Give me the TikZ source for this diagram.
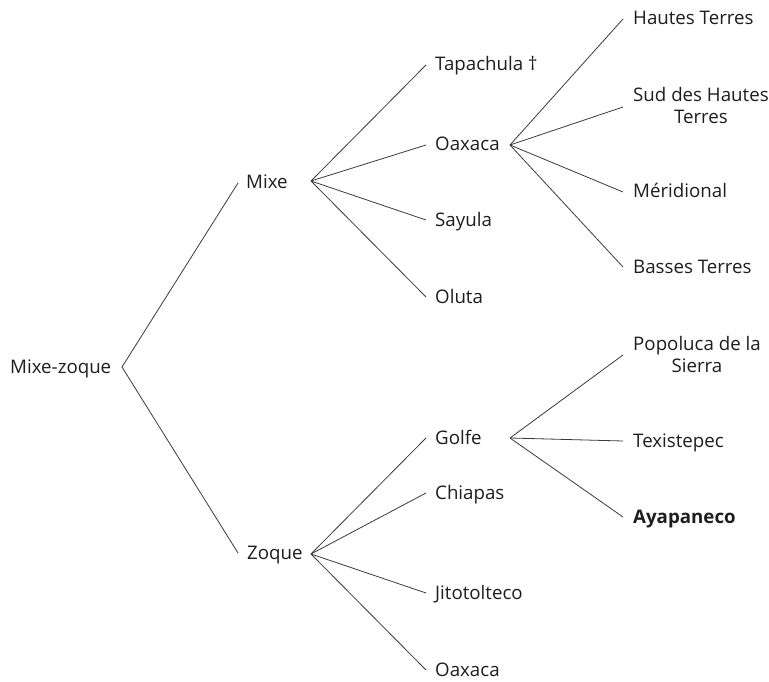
\documentclass[tikz,border=0pt]{standalone}
\usepackage{fontspec}
\setmainfont{Open Sans}
\definecolor{txt}{HTML}{1E1E1E}
\definecolor{edge}{HTML}{3A3A3A}
\begin{document}
\begin{tikzpicture}[x=1pt,y=-1pt,
  lbl/.style={anchor=west,inner ysep=0pt,text height=13pt,text depth=1pt,
    font=\fontsize{18.7}{22}\selectfont,text=txt,align=center},
  lbl8/.style={lbl,inner xsep=8pt},
  lbl9/.style={lbl,inner xsep=9pt},
  lbl10/.style={lbl,inner xsep=10pt},
  twoline/.style={lbl10,text height=35pt},
  br/.style={draw=edge,line width=0.8pt}]
\useasboundingbox (0,0) rectangle (769,682);
% root
\node[lbl,inner xsep=0pt] (mz) at (10,367) {Mixe-zoque};
\coordinate (mzJ) at (122,367);
% level 1
\node[lbl8] (mixe) at (238,183) {Mixe};
\coordinate (mixeJ) at (311,181);
\node[lbl9] (zoque) at (238,553) {Zoque};
\coordinate (zoqueJ) at (311,554);
% Mixe children
\node[lbl9] (tap) at (426,65) {Tapachula †};
\node[lbl9] (oax1) at (426,145) {Oaxaca};
\coordinate (oax1J) at (510,145);
\node[lbl9] (say) at (426,220) {Sayula};
\node[lbl9] (olu) at (426,297) {Oluta};
% Oaxaca children
\node[lbl10] (ht) at (623,19) {Hautes Terres};
\node[twoline] (sht) at (623,107) {Sud des Hautes\\Terres};
\node[lbl10] (mer) at (623,192) {Méridional};
\node[lbl10] (bt) at (623,267) {Basses Terres};
% Zoque children
\node[lbl9] (golfe) at (426,438) {Golfe};
\coordinate (golfeJ) at (510,438);
\node[lbl9] (chi) at (426,493) {Chiapas};
\node[lbl9] (jit) at (426,593) {Jitotolteco};
\node[lbl9] (oax2) at (426,670) {Oaxaca};
% Golfe children
\node[twoline] (pop) at (623,355) {Popoluca de la\\Sierra};
\node[lbl10] (tex) at (623,441) {Texistepec};
\node[lbl10,font=\fontsize{18.7}{22}\selectfont\bfseries] (aya) at (623,517) {Ayapaneco};
% edges
\draw[br] (mzJ) -- (mixe.west);
\draw[br] (mzJ) -- (zoque.west);
\foreach \c in {tap,oax1,say,olu} \draw[br] (mixeJ) -- (\c.west);
\foreach \c in {ht,sht,mer,bt} \draw[br] (oax1J) -- (\c.west);
\foreach \c in {golfe,chi,jit,oax2} \draw[br] (zoqueJ) -- (\c.west);
\foreach \c in {pop,tex,aya} \draw[br] (golfeJ) -- (\c.west);
\end{tikzpicture}
\end{document}
